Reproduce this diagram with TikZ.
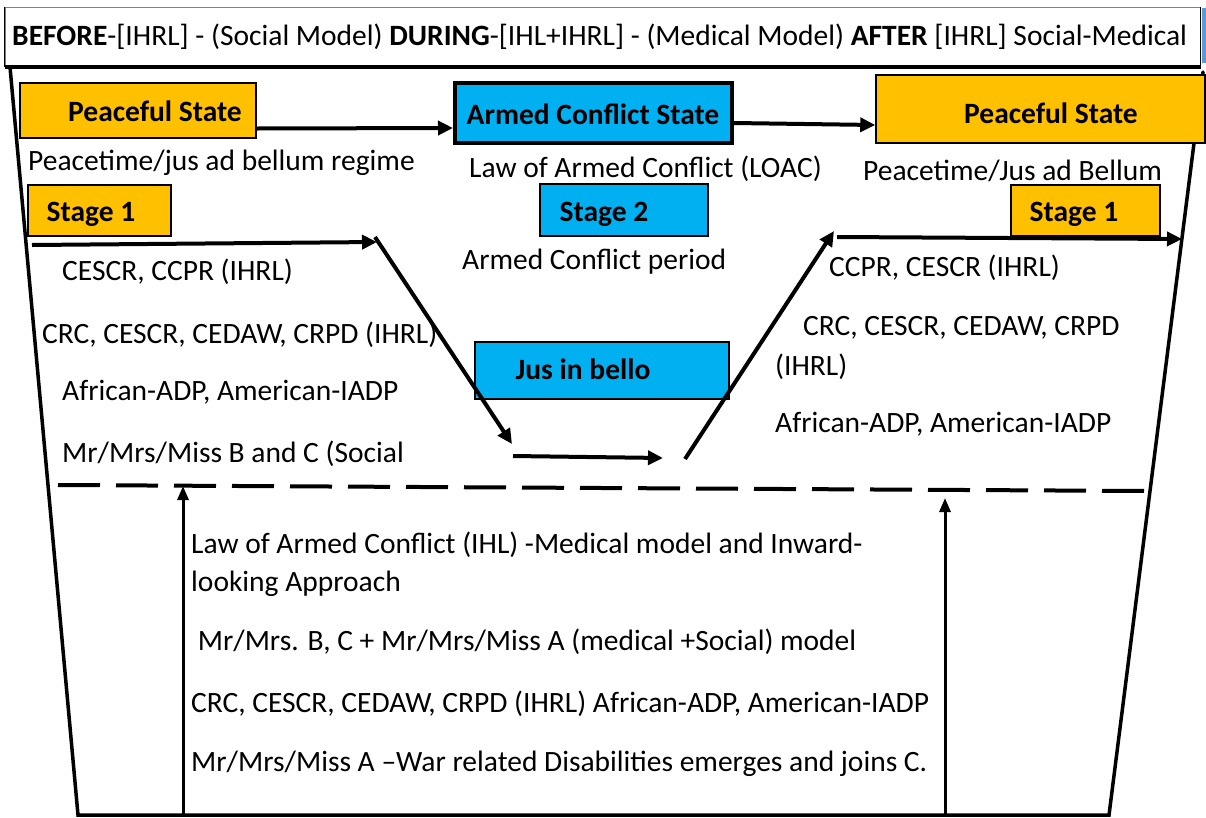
\documentclass[tikz,border=0pt]{standalone}
\usepackage{fontspec}
\setmainfont{Carlito}
\usetikzlibrary{arrows.meta}
\definecolor{pOrange}{HTML}{FFC000}
\definecolor{pBlue}{HTML}{00B0F0}
\definecolor{sBlue}{HTML}{5B9BD5}
\tikzset{
  txt/.style={inner sep=0pt, anchor=west, yshift=-2pt, font=\fontsize{29.5}{34}\selectfont},
  btxt/.style={inner sep=0pt, yshift=-1pt, font=\fontsize{29.5}{34}\selectfont\bfseries},
  obox/.style={draw=black, line width=1.5pt, fill=pOrange, inner sep=0pt},
  bbox/.style={draw=black, line width=1.5pt, fill=pBlue, inner sep=0pt},
  arr/.style={line width=4pt, -{Triangle[length=15pt,width=14pt]}},
  frame/.style={line width=3.5pt, line cap=round},
  varr/.style={line width=3pt, -{Triangle[length=14pt,width=11pt]}},
}
\begin{document}
\begin{tikzpicture}[x=1pt,y=-1pt]
\useasboundingbox (0,0) rectangle (1206,817);
\fill[white] (0,0) rectangle (1206,817);
% header
\fill[sBlue] (1202,8) rectangle (1206,63);
\node[draw=gray, line width=1pt, minimum width=1195pt, minimum height=59pt, inner sep=0pt] (hdr) at (602.5,36.5) {};
\draw[line width=4pt] (hdr.south west) -- (hdr.south east);
\draw[line width=1.5pt] (hdr.north east) -- (hdr.south east);
\draw[line width=1.5pt] (hdr.north west) -- (hdr.south west);
\node[txt] (hdrt) at (12,35) {\textbf{BEFORE}-[IHRL] - (Social Model) \textbf{DURING}-[IHL+IHRL] - (Medical Model) \textbf{AFTER} [IHRL] Social-Medical};
% trapezoid frame
\coordinate (tl) at (10,67);
\coordinate (bl) at (78,815);
\coordinate (br) at (1109,815);
\coordinate (tr) at (1203,72);
\draw[frame] (tl) -- (bl) -- (br) -- (tr);
% top row
\node[obox, minimum width=236pt, minimum height=55pt] (ps1) at (138,110.5) {};
\node[btxt] (ps1t) at (155,110) {Peaceful State};
\node[bbox, line width=4pt, minimum width=277pt, minimum height=60pt] (acs) at (593.5,113) {};
\node[btxt] (acst) at (593,113) {Armed Conflict State};
\node[obox, minimum width=329pt, minimum height=68pt] (ps2) at (1040.5,109) {};
\node[btxt] (ps2t) at (1051,112) {Peaceful State};
\draw[arr] ([yshift=-18pt]ps1.east) -- ([yshift=-15pt]acs.west);
\draw[arr] ([yshift=-10pt]acs.east) -- ([yshift=-16pt]ps2.west);
% stages
\node[obox, minimum width=143pt, minimum height=51pt] (s1a) at (99.5,210.5) {};
\node[btxt] (s1at) at (91,213) {Stage 1};
\node[bbox, minimum width=168pt, minimum height=52pt] (s2) at (624,210) {};
\node[btxt] (s2t) at (604,213) {Stage 2};
\node[obox, minimum width=149pt, minimum height=51pt] (s1b) at (1085.5,210.5) {};
\node[btxt] (s1bt) at (1074,213) {Stage 1};
\node[txt] (acp) at (462,260) {Armed Conflict period};
% sub labels
\node[txt] (pt1) at (28,161) {Peacetime/jus ad bellum regime};
\node[txt] (loac) at (469,167) {Law of Armed Conflict (LOAC)};
\node[txt] (pt2) at (863,169) {Peacetime/Jus ad Bellum};
% path arrows
\coordinate (a1s) at (32,245);
\coordinate (a1e) at (377,242);
\coordinate (d1s) at (375,237);
\coordinate (d1e) at (512,444);
\coordinate (h2s) at (513,456);
\coordinate (h2e) at (663,458);
\coordinate (d2s) at (685,459);
\coordinate (d2e) at (834,231);
\coordinate (a3s) at (837,237);
\coordinate (a3e) at (1182,239);
\draw[arr] (a1s) -- (a1e);
\node[bbox, minimum width=254pt, minimum height=57pt] (jib) at (602,370.5) {};
\node[btxt] (jibt) at (583,368) {Jus in bello};
\draw[arr] (d1s) -- (d1e);
\draw[arr] (h2s) -- (h2e);
\draw[arr] (d2s) -- (d2e);
\draw[arr] (a3s) -- (a3e);
% left texts
\node[txt] (l1) at (62,270) {CESCR, CCPR (IHRL)};
\node[txt] (l2) at (42,333) {CRC, CESCR, CEDAW, CRPD (IHRL)};
\node[txt] (l3) at (62,390) {African-ADP, American-IADP};
\node[txt] (l4) at (62,452) {Mr/Mrs/Miss B and C (Social};
% right texts
\node[txt] (r1) at (829,266) {CCPR, CESCR (IHRL)};
\node[txt] (r2) at (803,326) {CRC, CESCR, CEDAW, CRPD};
\node[txt] (r3) at (775,365) {(IHRL)};
\node[txt] (r4) at (775,422) {African-ADP, American-IADP};
% dashed divider
\coordinate (dl) at (58,485);
\coordinate (dr) at (1148,491);
\draw[line width=4pt, dash pattern=on 42pt off 16pt] (dl) -- (dr);
% vertical arrows
\coordinate (v1s) at (183,815);
\coordinate (v1e) at (183,486);
\coordinate (v2s) at (945,815);
\coordinate (v2e) at (945,498);
\draw[varr] (v1s) -- (v1e);
\draw[varr] (v2s) -- (v2e);
% bottom texts
\node[txt] (b1) at (191,543) {Law of Armed Conflict (IHL) -Medical model and Inward-};
\node[txt] (b2) at (191,582) {looking Approach};
\node[txt] (b3) at (191,640) {\ Mr/Mrs. B, C + Mr/Mrs/Miss A (medical +Social) model};
\node[txt] (b4) at (191,702) {CRC, CESCR, CEDAW, CRPD (IHRL) African-ADP, American-IADP};
\node[txt] (b5) at (191,762) {Mr/Mrs/Miss A –War related Disabilities emerges and joins C.};
\end{tikzpicture}
\end{document}
